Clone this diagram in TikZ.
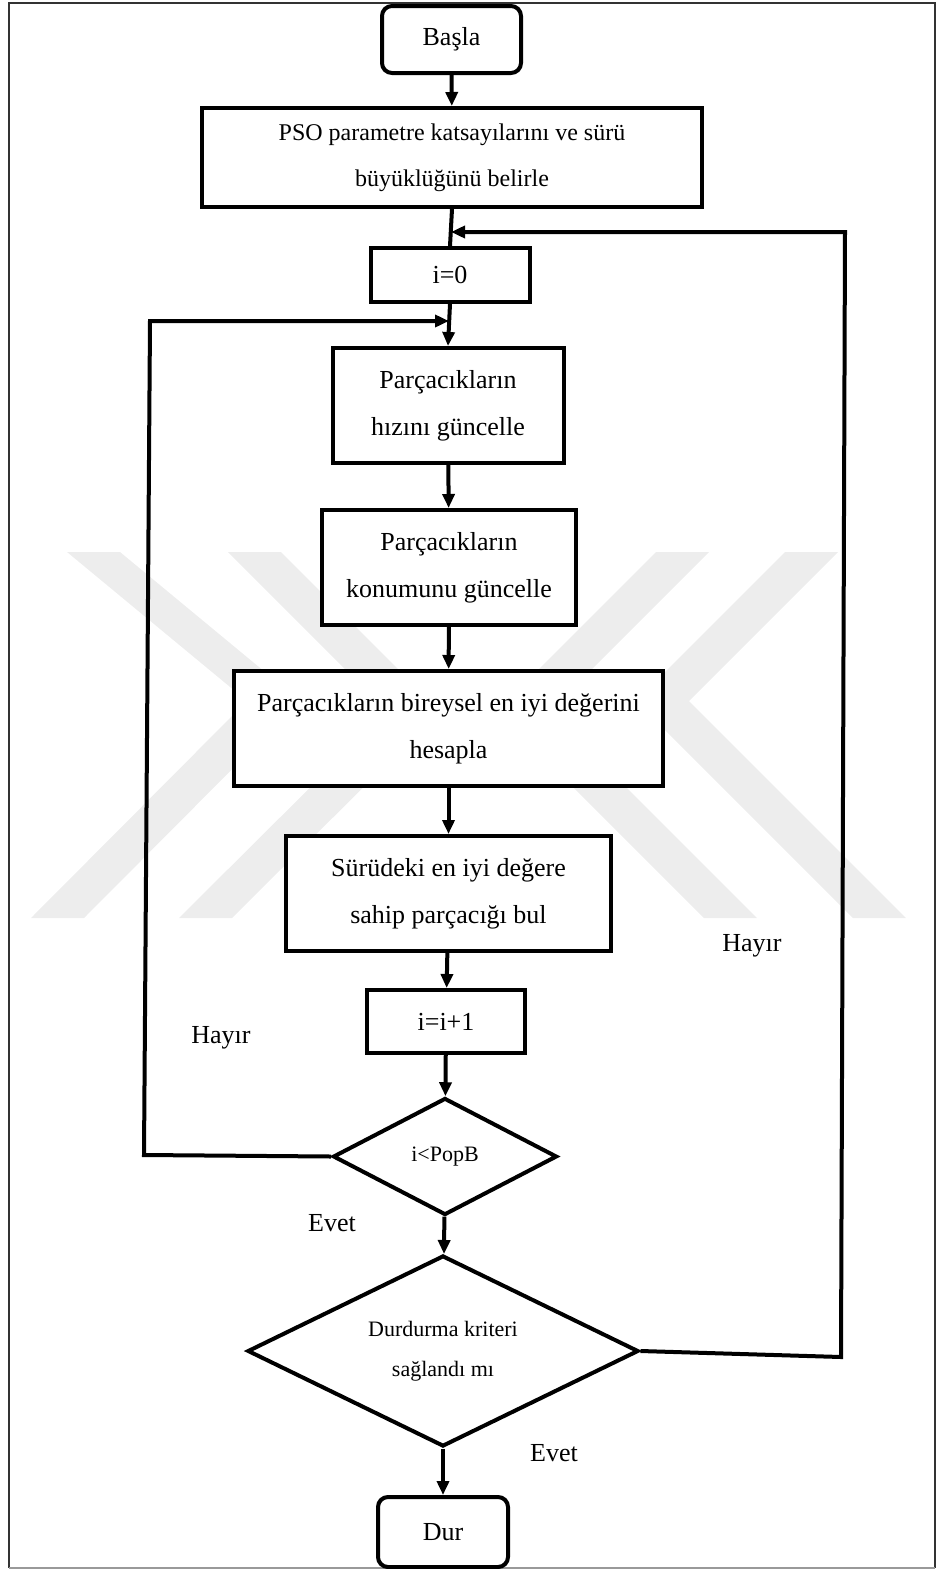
\documentclass[tikz,border=0pt]{standalone}
\usepackage{fontspec}
\setmainfont{Liberation Serif}
\usetikzlibrary{arrows.meta,shapes.geometric}
\definecolor{wmgray}{HTML}{EDEDED}
\definecolor{framegray}{HTML}{333333}

\begin{document}
\begin{tikzpicture}[x=1pt,y=-1pt,
  every node/.style={font=\fontsize{26}{47}\selectfont},
  proc/.style={draw, line width=4pt, fill=white, rectangle, inner sep=0pt, align=center},
  term/.style={proc, rounded corners=10pt},
  decision/.style={draw, line width=4pt, fill=white, diamond, aspect=2, inner sep=0pt, align=center},
  flow/.style={line width=4pt, -{Triangle[length=14pt,width=12pt]}},
  link/.style={line width=4pt},
  lbl/.style={font=\fontsize{26}{30}\selectfont, inner sep=0pt},
  band/.style={fill=wmgray, draw=none}
]
\useasboundingbox (0,0) rectangle (936,1569);

% faint background emblem: two nested chevrons on each side
\fill[band] (67,552) -- (120,552) -- (300,701) -- (84,918) -- (31,918) -- (247,701) -- cycle;
\fill[band] (228,552) -- (281,552) -- (440,711) -- (232,918) -- (179,918) -- (387,711) -- cycle;
\fill[band] (656,552) -- (709,552) -- (550,711) -- (757,918) -- (704,918) -- (497,711) -- cycle;
\fill[band] (785,552) -- (838,552) -- (689,701) -- (906,918) -- (853,918) -- (636,701) -- cycle;

% page frame
\draw[framegray, line width=2pt] (9,1567.5) -- (9,2.5) -- (934.5,2.5) -- (934.5,1567.5);
\draw[black!40, line width=1.5pt] (9,1568) -- (934.5,1568);

% flow steps
\node[term, minimum width=139pt, minimum height=67pt] (start) at (451.5,39.5) {Başla};
\node[proc, minimum width=500pt, minimum height=99pt,
      font=\fontsize{24}{46}\selectfont] (pso) at (452,157.5)
      {PSO parametre katsayılarını ve sürü\\büyüklüğünü belirle};
\node[proc, minimum width=159pt, minimum height=54pt] (init) at (450,275) {i=0};
\node[proc, minimum width=231pt, minimum height=115pt] (vel) at (448,405.5)
      {Parçacıkların\\hızını güncelle};
\node[proc, minimum width=254pt, minimum height=115pt] (pos) at (449,567.5)
      {Parçacıkların\\konumunu güncelle};
\node[proc, minimum width=429pt, minimum height=115pt] (pbest) at (448.5,728.5)
      {Parçacıkların bireysel en iyi değerini\\hesapla};
\node[proc, minimum width=325pt, minimum height=115pt] (gbest) at (448.5,893.5)
      {Sürüdeki en iyi değere\\sahip parçacığı bul};
\node[proc, minimum width=158pt, minimum height=63pt] (inc) at (446,1021.5) {i=i+1};
\node[decision, minimum width=224pt, minimum height=117pt,
      font=\fontsize{22}{40}\selectfont] (popcheck) at (445,1156.5) {i<PopB};
\node[decision, minimum width=391pt, minimum height=191pt,
      font=\fontsize{22}{40}\selectfont] (stopcheck) at (443,1351)
      {Durdurma kriteri\\sağlandı mı};
\node[term, minimum width=130pt, minimum height=70pt] (stop) at (443,1532) {Dur};

% branch labels
\node[lbl] (noinner) at (221,1038) {Hayır};
\node[lbl] (yesinner) at (332,1223) {Evet};
\node[lbl] (noouter) at (752,946) {Hayır};
\node[lbl] (yesouter) at (554,1453) {Evet};

% loop corner points
\coordinate (mergeTop) at (451,232);
\coordinate (mergeLow) at (449,321);
\coordinate (rightBot) at (841,1357);
\coordinate (rightTop) at (845,232);
\coordinate (leftBot) at (144,1155);
\coordinate (leftTop) at (150,321);

% main path
\draw[flow] (start) -- (pso);
\draw[link] (pso.south) -- (init.north);
\draw[flow] (init.south) -- (vel.north);
\draw[flow] (vel) -- (pos);
\draw[flow] (pos) -- (pbest);
\draw[flow] (pbest) -- (gbest);
\draw[flow] (gbest) -- (inc);
\draw[flow] (inc) -- (popcheck);
\draw[flow] (popcheck) -- (stopcheck);
\draw[flow] (stopcheck) -- (stop);

% feedback loops
\draw[flow] (popcheck.west) -- (leftBot) -- (leftTop) -- (mergeLow);
\draw[flow] (stopcheck.east) -- (rightBot) -- (rightTop) -- (mergeTop);
\end{tikzpicture}
\end{document}
